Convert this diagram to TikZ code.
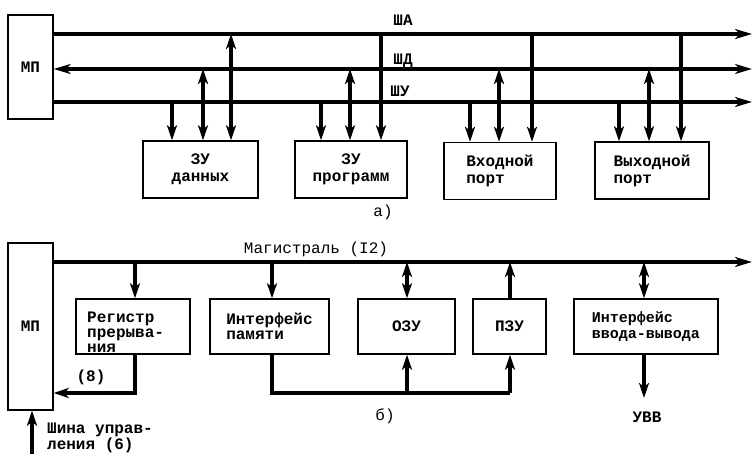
\documentclass[tikz,border=0pt]{standalone}
\usepackage{fontspec}
\setmainfont{Liberation Mono}
\usetikzlibrary{arrows.meta}
\begin{document}
\begin{tikzpicture}[x=1pt,y=-1pt,
  box/.style={draw,line width=1.4pt,inner sep=0pt,align=center,font=\fontsize{16}{17}\selectfont\bfseries},
  txt/.style={inner sep=0pt,font=\fontsize{16}{17}\selectfont\bfseries},
  bus/.style={line width=4pt},
  arr/.style={line width=3.3pt},
  tipR/.style={-{Stealth[length=17pt,width=10pt,inset=5pt]}},
  tipB/.style={{Stealth[length=17pt,width=10pt,inset=5pt]}-{Stealth[length=17pt,width=10pt,inset=5pt]}},
  tip/.style={-{Stealth[length=15pt,width=10pt,inset=4pt]}},
  dtip/.style={{Stealth[length=15pt,width=10pt,inset=4pt]}-{Stealth[length=15pt,width=10pt,inset=4pt]}},
  lbl/.style={inner sep=0pt,font=\fontsize{16}{17}\selectfont\bfseries}]
\useasboundingbox (0,0) rectangle (753,454);
% ---------- part a ----------
\node[box,minimum width=45pt,minimum height=104pt] (mp1) at (30.5,67) {МП};
\node[box,minimum width=115pt,minimum height=57pt] (zud) at (200.5,169.5) {ЗУ\\данных};
\node[box,minimum width=112pt,minimum height=57pt] (zup) at (351,169.5) {ЗУ\\программ};
\node[box,minimum width=112pt,minimum height=57pt,align=left] (vhp) at (500,171) {Входной\\порт};
\node[box,minimum width=114pt,minimum height=57pt,align=left] (vyp) at (652,170.5) {Выходной\\порт};
\coordinate (saR) at (752,34);
\coordinate (sdR) at (752,69);
\coordinate (suR) at (752,102);
\draw[bus,tipR] (mp1.east |- saR) -- (saR);
\draw[bus,tipB] (mp1.east |- sdR) -- (sdR);
\draw[bus,tipR] (mp1.east |- suR) -- (suR);
\node[lbl] (la) at (403,20) {ША};
\node[lbl] (ld) at (403,61) {ШД};
\node[lbl] (lu) at (400,91) {ШУ};
% taps
\coordinate (a1) at (172,102); \coordinate (a2) at (203,69); \coordinate (a3) at (231,34);
\coordinate (b1) at (321,102); \coordinate (b2) at (350,69); \coordinate (b3) at (381,34);
\coordinate (c1) at (470,102); \coordinate (c2) at (499,69); \coordinate (c3) at (532,34);
\coordinate (d1) at (619,102); \coordinate (d2) at (649,69); \coordinate (d3) at (681,34);
\draw[arr,tip] (a1) -- (a1 |- zud.north);
\draw[arr,dtip] (a2) -- (a2 |- zud.north);
\draw[arr,dtip] (a3) -- (a3 |- zud.north);
\draw[arr,tip] (b1) -- (b1 |- zup.north);
\draw[arr,dtip] (b2) -- (b2 |- zup.north);
\draw[arr,tip] (b3) -- (b3 |- zup.north);
\draw[arr,tip] (c1) -- (c1 |- vhp.north);
\draw[arr,dtip] (c2) -- (c2 |- vhp.north);
\draw[arr,tip] (c3) -- (c3 |- vhp.north);
\draw[arr,tip] (d1) -- (d1 |- vyp.north);
\draw[arr,dtip] (d2) -- (d2 |- vyp.north);
\draw[arr,tip] (d3) -- (d3 |- vyp.north);
\node[txt,font=\fontsize{16}{17}\selectfont] (capa) at (383,212) {а)};
% ---------- part b ----------
\node[box,minimum width=45pt,minimum height=167pt] (mp2) at (30.5,326.5) {МП};
\node[box,minimum width=114pt,minimum height=55pt] (reg) at (133,326.5) {};
\node[txt,anchor=north west,align=left,font=\fontsize{16}{15}\selectfont\bfseries] (regt) at (87,311.5) {Регистр\\прерыва-\\ния};
\node[box,minimum width=119pt,minimum height=55pt,font=\fontsize{16}{15}\selectfont\bfseries,align=left] (ifm) at (269.5,326.5) {Интерфейс\\памяти};
\node[box,minimum width=97pt,minimum height=55pt] (ozu) at (406.5,326.5) {ОЗУ};
\node[box,minimum width=73pt,minimum height=55pt] (pzu) at (509.5,326.5) {ПЗУ};
\node[box,minimum width=144pt,minimum height=55pt,align=left,font=\fontsize{15}{16}\selectfont\bfseries] (iov) at (646,326.5) {Интерфейс\\ввода-вывода};
\coordinate (mgR) at (752,262);
\draw[bus,tipR] (mp2.east |- mgR) -- (mgR);
\node[txt,font=\fontsize{16}{17}\selectfont] (mag) at (316,249) {Магистраль (I2)};
\coordinate (g1) at (135,262);
\coordinate (g2) at (272,262);
\coordinate (g3) at (407,262);
\coordinate (g4) at (510,262);
\coordinate (g5) at (644,262);
\draw[arr,tip] (g1) -- (g1 |- reg.north);
\draw[arr,tip] (g2) -- (g2 |- ifm.north);
\draw[arr,dtip] (g3) -- (g3 |- ozu.north);
\draw[arr,tip] (g4 |- pzu.north) -- (g4);
\draw[arr,dtip] (g5) -- (g5 |- iov.north);
% interrupt line
\coordinate (r8) at (135,393);
\draw[arr,tip,line join=miter] (g1 |- reg.south) -- (r8) -- (r8 -| mp2.east);
\node[txt] (l8) at (91,377) {(8)};
% memory internal bus
\coordinate (m1) at (272,393);
\coordinate (m2) at (407,393);
\coordinate (m3) at (510,393);
\draw[arr,line join=miter] (ifm.south -| m1) -- (m1) -- (m3);
\draw[arr,tip] (m2) -- (m2 |- ozu.south);
\draw[arr,tip] (m3) -- (m3 |- pzu.south);
% I/O
\coordinate (u1) at (644,398);
\draw[arr,tip] (g5 |- iov.south) -- (u1);
\node[txt] (uvv) at (647,417) {УВВ};
\node[txt,font=\fontsize{16}{17}\selectfont] (capb) at (385,416) {б)};
% control bus
\coordinate (cb) at (32,454);
\draw[arr,tip] (cb) -- (cb |- mp2.south);
\node[txt,anchor=north west,align=left,font=\fontsize{16}{13.5}\selectfont\bfseries] (cbl) at (47,423) {Шина управ-\\ления (6)};
\end{tikzpicture}
\end{document}
